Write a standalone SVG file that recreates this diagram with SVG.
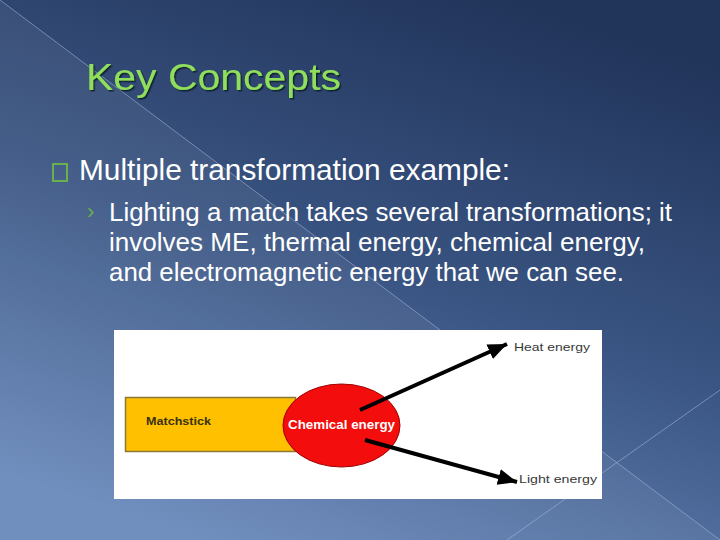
<svg xmlns="http://www.w3.org/2000/svg" width="720" height="540" viewBox="0 0 720 540">
  <defs>
    <linearGradient id="bg" x1="0.72" y1="0" x2="0.28" y2="1">
      <stop offset="0" stop-color="#21345a"/>
      <stop offset="0.5" stop-color="#3a5583"/>
      <stop offset="1" stop-color="#6888ba"/>
    </linearGradient>
    <filter id="shadow" x="-5%" y="-20%" width="110%" height="140%">
      <feDropShadow dx="1.5" dy="1.5" stdDeviation="0.6" flood-color="#0c1a2c" flood-opacity="0.9"/>
    </filter>
    <marker id="arrow" markerUnits="userSpaceOnUse" markerWidth="22" markerHeight="18" refX="19" refY="8" orient="auto">
      <path d="M0,0 L19,8 L0,16 z" fill="#000"/>
    </marker>
    <style>
      .title { font-family: "Liberation Sans", Arial, sans-serif; font-size: 36px; fill: #8fdf5c; }
      .body { font-family: "Liberation Sans", Arial, sans-serif; fill: #ffffff; }
      .lvl1 { font-size: 29px; }
      .lvl2 { font-size: 26px; }
      .small { font-family: "Liberation Sans", Arial, sans-serif; font-size: 11px; fill: #383838; }
      .conn { stroke: #000; stroke-width: 4; fill: none; marker-end: url(#arrow); }
    </style>
  </defs>

  <!-- background -->
  <rect x="0" y="0" width="720" height="540" fill="url(#bg)"/>
  <polygon points="0,0 720,540 0,540" fill="#ffffff" fill-opacity="0.06"/>
  <line x1="0" y1="0" x2="720" y2="540" stroke="#a8bce0" stroke-opacity="0.55" stroke-width="1"/>
  <line x1="507" y1="540" x2="720" y2="390" stroke="#a8bce0" stroke-opacity="0.55" stroke-width="1"/>

  <!-- title -->
  <text class="title" x="86" y="90" textLength="255" lengthAdjust="spacingAndGlyphs" filter="url(#shadow)">Key Concepts</text>

  <!-- bullets -->
  <rect x="53" y="164" width="14" height="17" fill="none" stroke="#6ab04c" stroke-width="2"/>
  <text class="body lvl1" x="79" y="180" textLength="431" lengthAdjust="spacingAndGlyphs">Multiple transformation example:</text>
  <text x="87" y="219" font-family="Liberation Sans, Arial, sans-serif" font-size="22" fill="#6ab04c">›</text>
  <text class="body lvl2" x="109" y="221" textLength="563" lengthAdjust="spacingAndGlyphs">Lighting a match takes several transformations; it</text>
  <text class="body lvl2" x="109" y="251" textLength="536" lengthAdjust="spacingAndGlyphs">involves ME, thermal energy, chemical energy,</text>
  <text class="body lvl2" x="109" y="281" textLength="515" lengthAdjust="spacingAndGlyphs">and electromagnetic energy that we can see.</text>

  <!-- picture panel -->
  <rect x="114" y="330" width="488" height="169" fill="#ffffff"/>

  <g id="matchstick">
    <rect x="125.5" y="397.5" width="170" height="54" fill="#ffc000" stroke="#8a7838" stroke-width="1.5"/>
    <text x="146" y="425" font-family="Liberation Sans, Arial, sans-serif" font-size="11" font-weight="bold" fill="#3a3210" textLength="65" lengthAdjust="spacingAndGlyphs">Matchstick</text>
  </g>

  <g id="chemical">
    <ellipse cx="341.5" cy="425.5" rx="58.5" ry="41.5" fill="#f30d0d" stroke="#a00000" stroke-width="1"/>
    <text x="288" y="429" font-family="Liberation Sans, Arial, sans-serif" font-size="13" font-weight="bold" fill="#ffffff" textLength="107" lengthAdjust="spacingAndGlyphs">Chemical energy</text>
  </g>

  <g id="heat">
    <text class="small" x="514" y="351" textLength="76" lengthAdjust="spacingAndGlyphs">Heat energy</text>
  </g>

  <g id="light">
    <text class="small" x="519" y="483" textLength="78" lengthAdjust="spacingAndGlyphs">Light energy</text>
  </g>

  <g id="connectors">
    <line class="conn" x1="360" y1="410" x2="507" y2="344"/>
    <line class="conn" x1="365" y1="440" x2="517" y2="482"/>
  </g>
</svg>
